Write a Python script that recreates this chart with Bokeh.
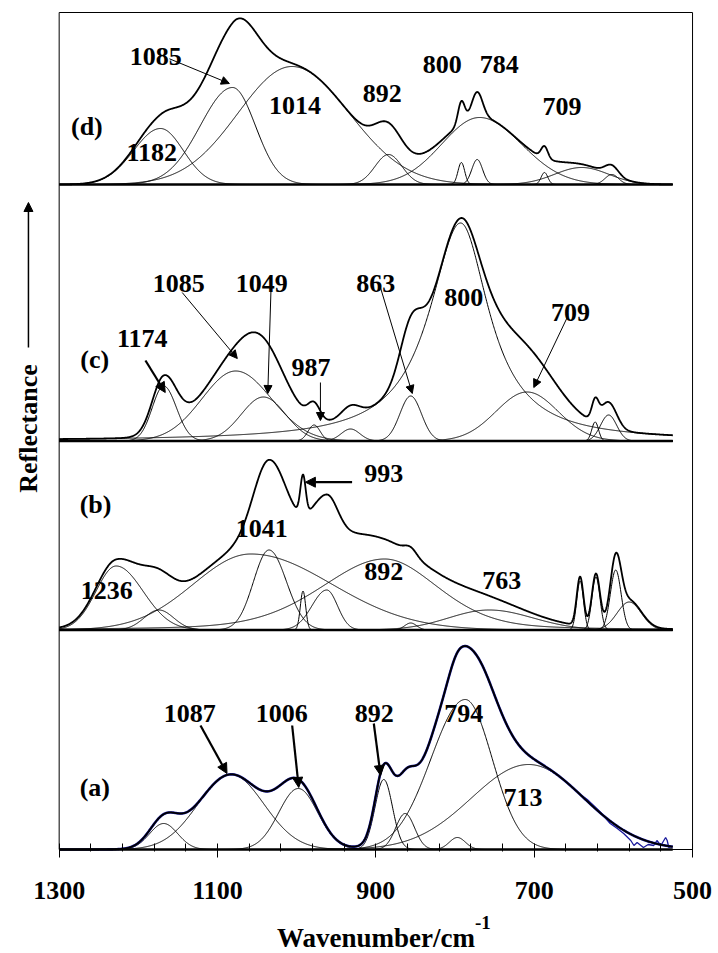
import numpy as np
from bokeh.plotting import figure
from bokeh.layouts import column
from bokeh.models import Range1d, FixedTicker, Label, Arrow, NormalHead
from bokeh.embed import file_html
from bokeh.resources import INLINE

# ---------------- data ----------------
WN_START = 1300
WN_END = 525
TICKS = [1300, 1100, 900, 700, 500]
MINOR_TICKS = [1260, 1220, 1180, 1140, 1060, 1020, 980, 940, 860, 820, 780, 740, 660, 620, 580, 540]

# band parameters: centre (cm-1), height, half width on high-wn side, half width on low-wn side, Lorentzian fraction
a_center = [1168, 1083, 998, 890, 863, 797, 787, 707]
a_height = [26, 75, 61, 70, 36, 12, 150, 85]
a_hw_hi = [21, 49, 29, 13, 14, 12, 51, 85]
a_hw_lo = [21, 49, 29, 13, 14, 12, 40, 82]
a_lor = [0, 0, 0, 0, 0, 0, 0, 0]

# measured spectrum (a), noisy low-wavenumber tail
a_meas_wn = [640, 633, 625, 616, 604, 595, 587, 578, 574, 570, 562, 556, 549, 545, 540, 534, 532, 530, 527]
a_meas_y = [54, 50, 44, 37, 26, 21, 16, 9, 4, 7, 2, 5, 4, 9, 4, 12, 9, 2, 3]

b_center = [1228, 1174, 1058, 1035, 992, 962, 889, 856, 757, 642, 622, 597, 580]
b_height = [64, 20, 76, 80, 39, 40, 71, 7, 20, 49, 53, 60, 28]
b_hw_hi = [30, 22, 85, 23, 4, 22, 95, 9, 60, 5, 6, 8, 18]
b_hw_lo = [40, 22, 120, 26, 4, 16, 80, 9, 65, 5, 6, 8, 18]
b_lor = [0, 0, 0, 0, 0, 0, 0.3, 0, 0, 0, 0, 0, 0]

c_center = [1168, 1077, 1042, 978, 932, 856, 793, 709, 623, 606]
c_height = [55, 70, 44, 16, 12, 45, 218, 49, 19, 26]
c_hw_hi = [17, 50, 33, 9, 14, 16, 48, 46, 5, 12]
c_hw_lo = [19, 53, 33, 9, 14, 16, 44, 46, 5, 12]
c_lor = [0, 0, 0, 0, 0, 0, 1.0, 0, 0, 0]

d_center = [1172, 1081, 1006, 884, 792, 772, 769, 687, 640, 602]
d_height = [56, 97, 118, 30, 22, 25, 67, 12, 17, 10]
d_hw_hi = [40, 48, 80, 20, 5, 8, 56, 5, 40, 10]
d_hw_lo = [34, 34, 85, 20, 5, 8, 62, 5, 40, 10]
d_lor = [0, 0, 0, 0, 0, 0, 0, 0, 0, 0]

panel_names = ["(a)", "(b)", "(c)", "(d)"]

a_peak_labels = ["1087", "1006", "892", "794", "713"]
b_peak_labels = ["1236", "1041", "993", "892", "763"]
c_peak_labels = ["1174", "1085", "1049", "987", "863", "800", "709"]
d_peak_labels = ["1085", "1014", "892", "800", "784", "709", "1182"]

# ---------------- layout constants ----------------
OFFSETS = [0, 219.5, 408.5, 665]
Y_TOP = 837
FONT = "Liberation Serif"
X_LEFT_EDGE, X_RIGHT_EDGE = 1374.1, 467.2

x = np.linspace(WN_START, WN_END, 1551)


def band(xx, c, h, whi, wlo, lor):
    d = xx - c
    w = np.where(d > 0, whi, wlo)
    u = (d / w) ** 2
    return h * ((1 - lor) * np.exp(-np.log(2) * u) + lor / (1 + u))


p = figure(width=718, height=913, output_backend="svg", toolbar_location=None,
           x_range=Range1d(X_LEFT_EDGE, X_RIGHT_EDGE), y_range=Range1d(-2, 849),
           min_border_left=0, min_border_right=0, min_border_top=0, min_border_bottom=62)
p.xgrid.visible = False
p.ygrid.visible = False
p.yaxis.visible = False
p.outline_line_color = None
p.background_fill_color = "white"
p.border_fill_color = "white"

ax = p.xaxis[0]
ax.ticker = FixedTicker(ticks=TICKS, minor_ticks=MINOR_TICKS)
ax.major_tick_in = 8
ax.major_tick_out = 6
ax.minor_tick_in = 8
ax.minor_tick_out = 0
ax.major_tick_line_color = "black"
ax.minor_tick_line_color = "black"
ax.axis_line_color = None
ax.major_label_text_font = FONT
ax.major_label_text_font_style = "bold"
ax.major_label_text_font_size = "26px"
ax.major_label_text_color = "black"
ax.major_label_standoff = 24

# plot box
x0, x1 = TICKS[0], TICKS[-1]
p.multi_line([[x0, x0], [x1, x1], [x0, x1], [x0, x1]],
             [[0, Y_TOP], [0, Y_TOP], [Y_TOP, Y_TOP], [0, 0]],
             line_color="black", line_width=1)

# measured tail of (a), drawn beneath the fit
p.line(a_meas_wn, [v + OFFSETS[0] for v in a_meas_y], line_color="#1a1a9c", line_width=1.3)

panels = [
    (a_center, a_height, a_hw_hi, a_hw_lo, a_lor),
    (b_center, b_height, b_hw_hi, b_hw_lo, b_lor),
    (c_center, c_height, c_hw_hi, c_hw_lo, c_lor),
    (d_center, d_height, d_hw_hi, d_hw_lo, d_lor),
]

for k, ((cs, hs, whs, wls, ls), off) in enumerate(zip(panels, OFFSETS)):
    total = np.zeros_like(x)
    for c, h, wh, wl, lr in zip(cs, hs, whs, wls, ls):
        yb = band(x, c, h, wh, wl, lr)
        total += yb
        p.line(x, yb + off, line_color="black", line_width=1.0)
    if k == 0:
        p.line(x, total + off, line_color="#1a1a9c", line_width=2.6, line_join="round")
    p.line(x, total + off, line_color="black", line_width=1.8, line_join="round")
    p.line([WN_START, WN_END], [off, off], line_color="black", line_width=2.6)


def lab(xv, yv, t, size="26px", align="center", base="middle", **kw):
    p.add_layout(Label(x=xv, y=yv, text=t, text_font=FONT, text_font_style="bold",
                       text_font_size=size, text_align=align, text_baseline=base,
                       text_color="black", **kw))


def arr(xa, ya, xb, yb, w=1.0, size=8):
    p.add_layout(Arrow(x_start=xa, y_start=ya, x_end=xb, y_end=yb, line_width=w,
                       line_color="black",
                       end=NormalHead(size=size, fill_color="black", line_color="black")))


# panel names
for name, (xx, yy) in zip(panel_names, [(1255, 62), (1254, 345), (1255, 490), (1265, 723)]):
    lab(xx, yy, name)

# (a)
for t, (xx, yy) in zip(a_peak_labels, [(1135, 136), (1019, 136), (902, 136), (789, 136), (714, 52)]):
    lab(xx, yy, t)
arr(1121.5, 124, 1088, 76, w=2.2, size=10)
arr(1005.7, 124, 997.4, 62, w=2.2, size=10)
arr(902.6, 126, 894, 74, w=2.2, size=10)

# (b)
for t, (xx, yy) in zip(b_peak_labels, [(1240, 259), (1044, 321), (890, 376), (890, 278), (741, 269)]):
    lab(xx, yy, t)
arr(930, 367.3, 989, 367.3, w=2.2, size=10)

# (c)
for t, (xx, yy) in zip(c_peak_labels, [(1195, 511), (1149, 566), (1044, 566), (982, 482), (900, 566), (789, 552), (654, 537)]):
    lab(xx, yy, t)
arr(1191, 489, 1166, 457, w=2.2, size=10)
arr(1144.6, 557, 1075, 491, w=1.0, size=8)
arr(1032.2, 566, 1036.5, 456, w=1.0, size=8)
arr(970, 467, 970, 429, w=1.0, size=8)
arr(894.2, 562, 854, 456, w=1.0, size=8)
arr(658.3, 532, 700.5, 462, w=1.0, size=8)

# (d)
for t, (xx, yy) in zip(d_peak_labels, [(1178, 793), (1002, 744), (892, 756), (816, 785), (744, 785), (665, 743), (1183, 697)]):
    lab(xx, yy, t)
arr(1160.7, 790.7, 1085, 766, w=1.0, size=8)

# y title with arrow
lab(1338.8, 421, "Reflectance", size="26px", angle=np.pi / 2)
arr(1338.8, 502, 1338.8, 647, w=1.5, size=9)

# x title in a strip below the axis
p2 = figure(width=718, height=40, output_backend="svg", toolbar_location=None,
            x_range=Range1d(X_LEFT_EDGE, X_RIGHT_EDGE), y_range=Range1d(0, 40),
            min_border_left=0, min_border_right=0, min_border_top=0, min_border_bottom=0)
p2.axis.visible = False
p2.grid.visible = False
p2.outline_line_color = None
p2.add_layout(Label(x=774.8, y=16, text="Wavenumber/cm", text_font=FONT, text_font_style="bold",
                    text_font_size="27px", text_align="right", text_baseline="middle",
                    text_color="black"))
p2.add_layout(Label(x=774.8, y=31, text="-1", text_font=FONT, text_font_style="bold",
                    text_font_size="19px", text_align="left", text_baseline="middle",
                    text_color="black"))

layout = column(p, p2, spacing=0)
open("out.html", "w").write(file_html(layout, INLINE))
